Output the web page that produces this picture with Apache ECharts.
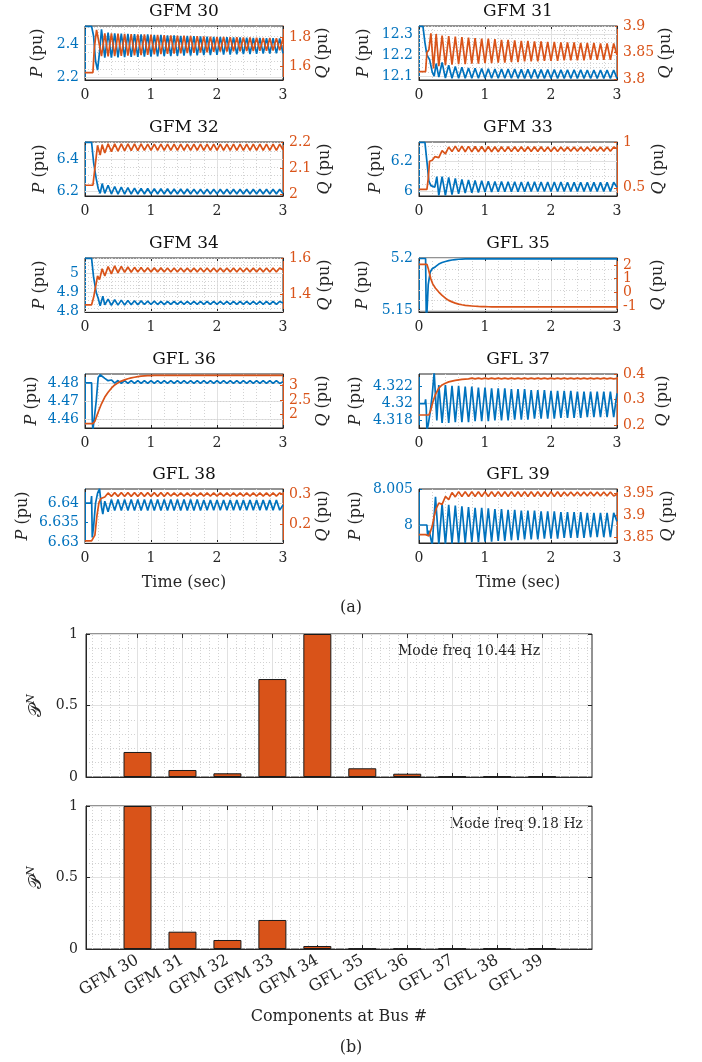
<!DOCTYPE html>
<html><head><meta charset="utf-8">
<script src="https://cdn.jsdelivr.net/npm/echarts/dist/echarts.min.js"></script>
<style>html,body{margin:0;padding:0;background:#fff}#c{width:702px;height:1062px}</style>
</head><body><div id="c"></div>
<script>
// ---------------- DATA ----------------
const titles = ['GFM 30','GFM 31','GFM 32','GFM 33','GFM 34','GFL 35','GFL 36','GFL 37','GFL 38','GFL 39'];
const tGrid = [0.30,0.35,0.40,0.45,0.50,0.55,0.60,0.65,0.70,0.75,0.80,0.85,0.90,0.95,1.00,1.05,1.10,1.15,1.20,1.25,1.30,1.35,1.40,1.45,1.50,1.55,1.60,1.65,1.70,1.75,1.80,1.85,1.90,1.95,2.00,2.05,2.10,2.15,2.20,2.25,2.30,2.35,2.40,2.45,2.50,2.55,2.60,2.65,2.70,2.75,2.80,2.85,2.90,2.95,3.00];

// GFM 30
const p30Tr = [[0,2.508],[0.1,2.508],[0.13,2.45],[0.16,2.30],[0.19,2.245],[0.22,2.35],[0.25,2.49]];
const p30 = [2.320,2.470,2.320,2.466,2.322, 2.465,2.323,2.463,2.324,2.462, 2.325,2.460,2.326,2.459,2.327, 2.457,2.328,2.456,2.329,2.454, 2.330,2.453,2.331,2.451,2.332, 2.450,2.333,2.449,2.334,2.447, 2.335,2.446,2.336,2.445,2.337, 2.444,2.338,2.443,2.339,2.442, 2.340,2.441,2.341,2.440,2.342, 2.439,2.343,2.438,2.344,2.437, 2.345,2.437,2.346,2.436,2.346];
const q30Tr = [[0,1.553],[0.12,1.553],[0.14,1.72],[0.175,1.855],[0.25,1.67]];
const q30 = [1.830,1.667,1.830,1.669,1.829, 1.671,1.827,1.673,1.826,1.675, 1.824,1.677,1.823,1.679,1.821, 1.681,1.820,1.683,1.818,1.685, 1.817,1.687,1.815,1.689,1.814, 1.691,1.812,1.693,1.811,1.695, 1.809,1.697,1.808,1.699,1.806, 1.701,1.805,1.702,1.804,1.703, 1.803,1.704,1.802,1.705,1.801, 1.706,1.800,1.707,1.799,1.708, 1.798,1.709,1.797,1.710,1.796];
// GFM 31
const p31Tr = [[0,12.338],[0.06,12.338],[0.09,12.26],[0.12,12.2],[0.16,12.18],[0.2,12.12],[0.23,12.1],[0.26,12.16]];
const p31 = [12.095,12.165,12.090,12.152,12.089, 12.146,12.089,12.142,12.089,12.139, 12.089,12.137,12.089,12.136,12.089, 12.135,12.089,12.134,12.089,12.134, 12.089,12.133,12.089,12.133,12.089, 12.132,12.089,12.132,12.089,12.132, 12.089,12.131,12.089,12.131,12.089, 12.131,12.089,12.130,12.089,12.130, 12.089,12.130,12.089,12.130,12.089, 12.129,12.089,12.129,12.089,12.129, 12.089,12.129,12.089,12.129,12.089];
const q31Tr = [[0,3.814],[0.1,3.814],[0.12,3.85],[0.15,3.855],[0.18,3.886],[0.22,3.82],[0.26,3.885]];
const q31 = [3.824,3.882,3.826,3.881,3.827, 3.880,3.828,3.879,3.828,3.878, 3.829,3.877,3.829,3.876,3.830, 3.876,3.830,3.875,3.831,3.874, 3.831,3.874,3.832,3.873,3.832, 3.872,3.833,3.872,3.833,3.871, 3.833,3.871,3.834,3.870,3.834, 3.870,3.834,3.869,3.835,3.869, 3.835,3.869,3.835,3.868,3.835, 3.868,3.836,3.868,3.836,3.867, 3.836,3.867,3.836,3.867,3.845];
// GFM 32
const p32Tr = [[0,6.502],[0.1,6.502],[0.13,6.38],[0.17,6.28],[0.2,6.22],[0.23,6.19],[0.26,6.25]];
const p32 = [6.190,6.240,6.186,6.232,6.186, 6.228,6.186,6.225,6.186,6.222, 6.186,6.221,6.186,6.220,6.186, 6.219,6.186,6.218,6.186,6.218, 6.186,6.217,6.186,6.217,6.186, 6.217,6.186,6.216,6.186,6.216, 6.186,6.216,6.186,6.216,6.186, 6.215,6.186,6.215,6.186,6.215, 6.186,6.215,6.186,6.215,6.186, 6.215,6.186,6.215,6.186,6.215, 6.186,6.215,6.186,6.215,6.190];
const q32Tr = [[0,2.035],[0.12,2.035],[0.15,2.1],[0.19,2.187],[0.23,2.15],[0.26,2.19]];
const q32 = [2.158,2.193,2.163,2.193,2.165, 2.193,2.166,2.193,2.167,2.193, 2.167,2.193,2.168,2.192,2.168, 2.192,2.168,2.192,2.168,2.192, 2.168,2.192,2.168,2.192,2.168, 2.192,2.168,2.192,2.168,2.192, 2.168,2.192,2.168,2.192,2.168, 2.192,2.168,2.192,2.168,2.192, 2.168,2.192,2.168,2.192,2.168, 2.192,2.168,2.192,2.168,2.192, 2.168,2.192,2.168,2.192,2.170];
// GFM 33
const p33Tr = [[0,6.329],[0.09,6.329],[0.12,6.2],[0.15,6.07],[0.18,6.04],[0.21,6.03],[0.24,6.03],[0.27,6.1]];
const p33 = [5.975,6.100,5.975,6.095,5.980, 6.088,5.985,6.082,5.990,6.078, 5.993,6.075,5.995,6.072,5.997, 6.070,5.998,6.068,5.999,6.067, 6.000,6.066,6.000,6.066,6.000, 6.065,6.000,6.065,6.001,6.065, 6.001,6.064,6.001,6.064,6.001, 6.064,6.001,6.064,6.002,6.063, 6.002,6.063,6.002,6.063,6.002, 6.063,6.002,6.062,6.002,6.062, 6.002,6.062,6.002,6.062,6.030];
const q33Tr = [[0,0.482],[0.12,0.482],[0.14,0.6],[0.16,0.79],[0.2,0.8],[0.24,0.84],[0.27,0.86]];
const q33 = [0.830,0.905,0.870,0.945,0.895, 0.955,0.895,0.953,0.893,0.952, 0.892,0.951,0.893,0.950,0.893, 0.950,0.894,0.949,0.894,0.949, 0.895,0.948,0.895,0.948,0.896, 0.948,0.896,0.947,0.896,0.947, 0.897,0.947,0.897,0.946,0.897, 0.946,0.897,0.946,0.898,0.946, 0.898,0.945,0.898,0.945,0.898, 0.945,0.898,0.945,0.898,0.945, 0.898,0.945,0.898,0.945,0.925];
// GFM 34
const p34Tr = [[0,5.078],[0.1,5.078],[0.13,4.98],[0.17,4.9],[0.2,4.87],[0.23,4.83],[0.27,4.88]];
const p34 = [4.835,4.865,4.833,4.862,4.834, 4.860,4.835,4.858,4.836,4.857, 4.836,4.856,4.837,4.855,4.837, 4.855,4.837,4.854,4.837,4.854, 4.838,4.854,4.838,4.854,4.838, 4.853,4.838,4.853,4.838,4.853, 4.838,4.853,4.838,4.853,4.838, 4.853,4.838,4.853,4.838,4.853, 4.838,4.853,4.838,4.853,4.838, 4.853,4.838,4.853,4.838,4.853, 4.838,4.853,4.838,4.853,4.845];
const q34Tr = [[0,1.34],[0.1,1.34],[0.13,1.38],[0.16,1.44],[0.19,1.5],[0.22,1.48],[0.26,1.54]];
const q34 = [1.500,1.552,1.512,1.556,1.518, 1.553,1.520,1.550,1.521,1.548, 1.522,1.547,1.522,1.546,1.522, 1.545,1.522,1.545,1.522,1.544, 1.522,1.544,1.522,1.544,1.522, 1.544,1.522,1.544,1.522,1.544, 1.522,1.544,1.522,1.544,1.522, 1.544,1.522,1.544,1.522,1.544, 1.522,1.544,1.522,1.544,1.522, 1.544,1.522,1.544,1.522,1.544, 1.522,1.544,1.522,1.544,1.535];
// GFL 35
const p35Tr = [[0,5.1998],[0.1,5.1998],[0.11,5.145],[0.12,5.148],[0.14,5.175],[0.17,5.187],[0.2,5.19],[0.25,5.192]];
const p35 = [5.1945,5.1960,5.1970,5.1978,5.1984, 5.1988,5.1991,5.1993,5.1994,5.1995, 5.1995,5.1995,5.1995,5.1995,5.1995, 5.1995,5.1995,5.1995,5.1995,5.1995, 5.1995,5.1995,5.1995,5.1995,5.1995, 5.1995,5.1995,5.1995,5.1995,5.1995, 5.1995,5.1995,5.1995,5.1995,5.1995, 5.1995,5.1995,5.1995,5.1995,5.1995, 5.1995,5.1995,5.1995,5.1995,5.1995, 5.1995,5.1995,5.1995,5.1995,5.1995, 5.1995,5.1995,5.1995,5.1995,5.1995];
const q35Tr = [[0,2.05],[0.12,2.05],[0.14,1.75],[0.16,1.35],[0.18,0.97],[0.21,0.6],[0.25,0.3]];
const q35 = [0.02,-0.22,-0.43,-0.59,-0.70, -0.79,-0.86,-0.91,-0.95,-0.98, -1.00,-1.02,-1.035,-1.045,-1.05, -1.055,-1.06,-1.063,-1.065,-1.067, -1.068,-1.068,-1.068,-1.068,-1.068, -1.068,-1.068,-1.068,-1.068,-1.068, -1.068,-1.068,-1.068,-1.068,-1.068, -1.068,-1.068,-1.068,-1.068,-1.068, -1.068,-1.068,-1.068,-1.068,-1.068, -1.068,-1.068,-1.068,-1.068,-1.068, -1.068,-1.068,-1.068,-1.068,-1.068];
// GFL 36
const p36Tr = [[0,4.48],[0.1,4.48],[0.11,4.4595],[0.12,4.454],[0.14,4.454],[0.17,4.47],[0.2,4.483],[0.23,4.4845],[0.26,4.4835]];
const p36 = [4.4825,4.4812,4.4816,4.4799,4.4813, 4.4797,4.4813,4.4797,4.4813,4.4797, 4.4813,4.4797,4.4813,4.4797,4.4813, 4.4797,4.4813,4.4797,4.4813,4.4797, 4.4813,4.4797,4.4813,4.4797,4.4813, 4.4797,4.4813,4.4797,4.4813,4.4797, 4.4813,4.4797,4.4813,4.4797,4.4813, 4.4797,4.4813,4.4797,4.4813,4.4797, 4.4813,4.4797,4.4813,4.4797,4.4813, 4.4797,4.4813,4.4797,4.4813,4.4797, 4.4813,4.4797,4.4813,4.4797,4.4806];
const q36Tr = [[0,1.70],[0.12,1.70],[0.15,1.78],[0.18,1.97],[0.21,2.15],[0.25,2.37]];
const q36 = [2.60,2.76,2.90,3.01,3.08, 3.14,3.18,3.22,3.25,3.27, 3.29,3.305,3.315,3.322,3.328, 3.331,3.333,3.335,3.335,3.335, 3.335,3.335,3.335,3.335,3.335, 3.335,3.335,3.335,3.335,3.335, 3.335,3.335,3.335,3.335,3.335, 3.335,3.335,3.335,3.335,3.335, 3.335,3.335,3.335,3.335,3.335, 3.335,3.335,3.335,3.335,3.335, 3.335,3.335,3.335,3.335,3.335];
// GFL 37
const p37Tr = [[0,4.32],[0.09,4.32],[0.1,4.3205],[0.11,4.3195],[0.12,4.3168],[0.14,4.3175],[0.17,4.319],[0.2,4.321],[0.23,4.3237],[0.27,4.318]];
const p37 = [4.3222,4.3177,4.3222,4.3177,4.3221, 4.3178,4.3221,4.3178,4.3220,4.3178, 4.3220,4.3179,4.3219,4.3179,4.3219, 4.3179,4.3218,4.3180,4.3218,4.3180, 4.3218,4.3180,4.3217,4.3181,4.3217, 4.3181,4.3217,4.3181,4.3216,4.3182, 4.3216,4.3182,4.3216,4.3182,4.3215, 4.3182,4.3215,4.3183,4.3215,4.3183, 4.3215,4.3183,4.3214,4.3183,4.3214, 4.3184,4.3214,4.3184,4.3214,4.3184, 4.3214,4.3184,4.3214,4.3184,4.3212];
const q37Tr = [[0,0.239],[0.15,0.239],[0.18,0.26],[0.21,0.29],[0.25,0.32]];
const q37 = [0.345,0.357,0.364,0.369,0.372, 0.375,0.377,0.379,0.380,0.381, 0.384,0.381,0.384,0.381,0.384, 0.381,0.384,0.381,0.384,0.381, 0.384,0.381,0.384,0.381,0.384, 0.381,0.384,0.381,0.384,0.381, 0.384,0.381,0.384,0.381,0.384, 0.381,0.384,0.381,0.384,0.381, 0.384,0.381,0.384,0.381,0.384, 0.381,0.384,0.381,0.384,0.381, 0.384,0.381,0.384,0.381,0.383];
// GFL 38
const p38Tr = [[0,6.64],[0.09,6.64],[0.1,6.6418],[0.11,6.6312],[0.13,6.634],[0.16,6.64],[0.19,6.6425],[0.22,6.6437],[0.25,6.639],[0.27,6.6372]];
const p38 = [6.6405,6.6378,6.6409,6.6381,6.6409, 6.6381,6.6409,6.6381,6.6409,6.6381, 6.6409,6.6381,6.6409,6.6381,6.6409, 6.6381,6.6409,6.6381,6.6409,6.6381, 6.6409,6.6381,6.6409,6.6381,6.6409, 6.6381,6.6409,6.6381,6.6409,6.6381, 6.6408,6.6382,6.6408,6.6382,6.6408, 6.6382,6.6408,6.6382,6.6408,6.6382, 6.6408,6.6382,6.6408,6.6382,6.6408, 6.6382,6.6408,6.6382,6.6408,6.6382, 6.6408,6.6382,6.6408,6.6382,6.6395];
const q38Tr = [[0,0.146],[0.1,0.146],[0.13,0.15],[0.15,0.165],[0.18,0.227],[0.21,0.27],[0.24,0.285],[0.27,0.29]];
const q38 = [0.290,0.303,0.292,0.304,0.292, 0.304,0.292,0.304,0.292,0.304, 0.292,0.304,0.292,0.304,0.292, 0.304,0.292,0.304,0.292,0.304, 0.293,0.303,0.293,0.303,0.293, 0.303,0.293,0.303,0.293,0.303, 0.293,0.303,0.293,0.303,0.293, 0.303,0.293,0.303,0.293,0.303, 0.293,0.303,0.293,0.303,0.293, 0.303,0.293,0.303,0.293,0.303, 0.293,0.303,0.293,0.303,0.298];
// GFL 39
const p39Tr = [[0,8.0],[0.12,8.0],[0.13,7.9985],[0.15,7.9992],[0.17,7.9985],[0.2,7.9972],[0.22,8.0],[0.25,8.0039]];
const p39 = [7.9973,8.0029,7.9973,8.0028,7.9974, 8.0027,7.9975,8.0026,7.9975,8.0025, 7.9976,8.0024,7.9976,8.0024,7.9977, 8.0023,7.9977,8.0022,7.9978,8.0022, 7.9978,8.0021,7.9979,8.0021,7.9979, 8.0020,7.9980,8.0020,7.9980,8.0020, 7.9980,8.0019,7.9981,8.0019,7.9981, 8.0019,7.9981,8.0018,7.9982,8.0018, 7.9982,8.0018,7.9982,8.0018,7.9982, 8.0017,7.9983,8.0017,7.9983,8.0017, 7.9983,8.0017,7.9983,8.0017,8.0005];
const q39Tr = [[0,3.856],[0.1,3.856],[0.15,3.853],[0.17,3.856],[0.2,3.875],[0.23,3.898],[0.26,3.915]];
const q39 = [3.928,3.925,3.943,3.936,3.952, 3.942,3.954,3.943,3.954,3.943, 3.954,3.943,3.954,3.943,3.954, 3.943,3.954,3.943,3.954,3.943, 3.954,3.943,3.954,3.943,3.954, 3.943,3.954,3.943,3.954,3.943, 3.954,3.943,3.954,3.943,3.954, 3.943,3.954,3.943,3.953,3.944, 3.953,3.944,3.953,3.944,3.953, 3.944,3.953,3.944,3.953,3.944, 3.953,3.944,3.953,3.944,3.948];

// axis limits and tick labels
const pRanges = [[2.186,2.51],[12.081,12.34],[6.174,6.504],[5.971,6.331],[4.798,5.08],[5.1488,5.2003],[4.4551,4.4849],[4.3171,4.3235],[6.6298,6.6436],[7.9975,8.005]];
const qRanges = [[1.5,1.883],[3.798,3.9],[1.994,2.2],[0.41,1.0],[1.3,1.6],[-1.44,2.51],[1.55,3.38],[0.188,0.4],[0.139,0.316],[3.837,3.96]];
const pTicks = [[2.2,2.4],[12.1,12.2,12.3],[6.2,6.4],[6,6.2],[4.8,4.9,5],[5.15,5.2],[4.46,4.47,4.48],[4.318,4.32,4.322],[6.63,6.635,6.64],[8,8.005]];
const qTicks = [[1.6,1.8],[3.8,3.85,3.9],[2,2.1,2.2],[0.5,1],[1.4,1.6],[-1,0,1,2],[2,2.5,3],[0.2,0.3,0.4],[0.2,0.3],[3.85,3.9,3.95]];
const pMinor = [0.05,0.02,0.05,0.05,0.02,0.01,0.002,0.0005,0.001,0.001];
const timeTicks = [0,1,2,3];

// bar charts
const categories = ['GFM 30','GFM 31','GFM 32','GFM 33','GFM 34','GFL 35','GFL 36','GFL 37','GFL 38','GFL 39'];
const catPos = [1,2,3,4,5,6,7,8,9,10];
const mode1 = [0.175,0.049,0.026,0.685,1.0,0.061,0.023,0.004,0.004,0.005];
const mode2 = [1.0,0.121,0.063,0.203,0.021,0.003,0.003,0.003,0.004,0.004];
const barTicks = [0,0.5,1];
const barXRange = [-0.146, 11.11];

const Pseries = [[p30Tr,p30],[p31Tr,p31],[p32Tr,p32],[p33Tr,p33],[p34Tr,p34],[p35Tr,p35],[p36Tr,p36],[p37Tr,p37],[p38Tr,p38],[p39Tr,p39]];
const Qseries = [[q30Tr,q30],[q31Tr,q31],[q32Tr,q32],[q33Tr,q33],[q34Tr,q34],[q35Tr,q35],[q36Tr,q36],[q37Tr,q37],[q38Tr,q38],[q39Tr,q39]];

// ---------------- LAYOUT / STYLE ----------------
const FONT = 'DejaVu Serif';
const BLUE = '#0072BD', ORANGE = '#D95319', INK = '#262626';
const MAJ = '#e1e1e1', MIN = '#d2d2d2';
const colLeft = [85, 419], rowTop = [26, 142, 258, 374, 489], W = 198, H = 54;
const leftGap = [47,55,45,43,45,56,53,63,62,63];
const rightGap = [39,49,42,42,42,41,40,46,40,51];

function build(pair){ return pair[0].concat(tGrid.map((t,i)=>[t, pair[1][i]])); }
function hLines(range, ticks, step){
  const out = [];
  const k0 = Math.ceil(range[0]/step - 1e-6), k1 = Math.floor(range[1]/step + 1e-6);
  for (let k=k0;k<=k1;k++){
    const v = +(k*step).toFixed(6);
    const major = ticks.some(t=>Math.abs(t-v) < step*1e-3);
    out.push({yAxis: v, lineStyle: major ? {color: MAJ, type:'solid', width:1} : {color: MIN, type:[1,2], width:1}});
  }
  return out;
}
function vMinor(range, step, majors){
  const out = [];
  const k0 = Math.ceil(range[0]/step - 1e-6), k1 = Math.floor(range[1]/step + 1e-6);
  for (let k=k0;k<=k1;k++){
    const v = +(k*step).toFixed(6);
    if (majors.some(t=>Math.abs(t-v) < 1e-6)) continue;
    out.push({xAxis: v});
  }
  return out;
}
const fmt = v => String(+(+v).toFixed(4));
const nameStyle = {fontFamily: FONT, fontSize: 16, color: INK, rich: {i: {fontFamily: FONT, fontStyle:'italic', fontSize: 16, color: INK}}};
function yLabel(vals, color){
  return {customValues: vals, showMinLabel: true, showMaxLabel: true, hideOverlap: false, color: color, fontFamily: FONT, fontSize: 14, margin: 6, formatter: fmt};
}

const grid = [], xAxis = [], yAxis = [], series = [], graphic = [];

titles.forEach((tt, i) => {
  const col = i % 2, row = Math.floor(i / 2);
  const L = colLeft[col], T = rowTop[row];
  grid.push({left: L, top: T, width: W, height: H, show: true, borderColor: INK, borderWidth: 1, backgroundColor: '#fff'});
  const xi = xAxis.length;
  xAxis.push({gridIndex: i, type: 'value', min: 0, max: 3, interval: 1,
    axisLine: {onZero: false, lineStyle: {color: INK, width: 1}},
    axisTick: {inside: true, length: 3, lineStyle: {color: INK}},
    axisLabel: {customValues: timeTicks, fontFamily: FONT, fontSize: 14, color: INK, margin: 8, formatter: fmt},
    splitLine: {show: true, lineStyle: {color: MAJ, width: 1}},
    minorTick: {show: false, splitNumber: 5},
    minorSplitLine: {show: true, lineStyle: {color: MIN, type: [1,2], width: 1}},
    name: row === 4 ? 'Time (sec)' : '', nameLocation: 'middle', nameGap: 32,
    nameTextStyle: {fontFamily: FONT, fontSize: 16, color: INK}});
  xAxis.push({gridIndex: i, type: 'value', position: 'top', min: 0, max: 3, interval: 1,
    axisLine: {show: false, onZero: false}, axisTick: {inside: true, length: 3, lineStyle: {color: INK}},
    axisLabel: {show: false}, splitLine: {show: false}});
  const pi = yAxis.length;
  yAxis.push({gridIndex: i, type: 'value', position: 'left', min: pRanges[i][0], max: pRanges[i][1],
    axisLine: {show: true, onZero: false, lineStyle: {color: BLUE, width: 1}},
    axisTick: {show: true, inside: true, length: 3, customValues: pTicks[i], lineStyle: {color: BLUE}},
    axisLabel: yLabel(pTicks[i], BLUE),
    splitLine: {show: false},
    name: '{i|P} (pu)', nameLocation: 'middle', nameRotate: 90, nameGap: leftGap[i] - 8, nameTextStyle: nameStyle});
  const qt = qTicks[i];
  const dense = qt.length >= 4;
  const qMain = dense ? qt.filter((v, k) => k % 2 === 0) : qt;
  const qi = yAxis.length;
  yAxis.push({gridIndex: i, type: 'value', position: 'right', min: qRanges[i][0], max: qRanges[i][1],
    axisLine: {show: true, onZero: false, lineStyle: {color: ORANGE, width: 1}},
    axisTick: {show: true, inside: true, length: 3, customValues: qt, lineStyle: {color: ORANGE}},
    axisLabel: yLabel(qMain, ORANGE),
    splitLine: {show: false},
    name: '{i|Q} (pu)', nameLocation: 'middle', nameRotate: 90, nameGap: rightGap[i] - 8, nameTextStyle: nameStyle});
  if (dense) {
    yAxis.push({gridIndex: i, type: 'value', position: 'right', offset: 0, min: qRanges[i][0], max: qRanges[i][1],
      axisLine: {show: false, onZero: false}, axisTick: {show: false},
      axisLabel: yLabel(qt.filter((v, k) => k % 2 === 1), ORANGE), splitLine: {show: false}});
  }
  series.push({type: 'line', xAxisIndex: xi, yAxisIndex: pi, data: build(Pseries[i]), showSymbol: false, symbol: 'none',
    lineStyle: {color: BLUE, width: 1.7}, itemStyle: {color: BLUE}, z: 3, clip: true,
    markLine: {silent: true, symbol: ['none','none'], label: {show: false}, z: 1, animation: false, data: hLines(pRanges[i], pTicks[i], pMinor[i])}});
  series.push({type: 'line', xAxisIndex: xi, yAxisIndex: qi, data: build(Qseries[i]), showSymbol: false, symbol: 'none',
    lineStyle: {color: ORANGE, width: 1.7}, itemStyle: {color: ORANGE}, z: 4, clip: true});
  graphic.push({type: 'text', x: L + W/2, y: T - 14, style: {text: tt, font: '17px "DejaVu Serif"', fill: '#111', align: 'center', verticalAlign: 'middle'}});
});

// bar charts
const barTops = [634, 806], BL = 86, BW = 506, BH = 143;
const modeText = ['Mode freq 10.44 Hz', 'Mode freq 9.18 Hz'];
[mode1, mode2].forEach((vals, j) => {
  const gi = 10 + j;
  grid.push({left: BL, top: barTops[j], width: BW, height: BH, show: true, borderColor: INK, borderWidth: 1, backgroundColor: '#fff'});
  const xi = xAxis.length;
  xAxis.push({gridIndex: gi, type: 'value', min: barXRange[0], max: barXRange[1],
    axisLine: {onZero: false, lineStyle: {color: INK}},
    axisTick: {inside: true, length: 4, customValues: catPos, lineStyle: {color: INK}},
    axisLabel: {show: j === 1, customValues: catPos, showMinLabel: true, showMaxLabel: true, hideOverlap: false, rotate: 30, fontFamily: FONT, fontSize: 16, color: INK, margin: 10,
      formatter: v => categories[Math.round(v) - 1] || ''},
    splitLine: {show: true, lineStyle: {color: MAJ}},
    minorSplitLine: {show: false},
    name: j === 1 ? 'Components at Bus #' : '', nameLocation: 'middle', nameGap: 60,
    nameTextStyle: {fontFamily: FONT, fontSize: 16, color: INK}});
  xAxis.push({gridIndex: gi, type: 'value', position: 'top', min: barXRange[0], max: barXRange[1],
    axisLine: {show: false, onZero: false}, axisTick: {inside: true, length: 4, customValues: catPos, lineStyle: {color: INK}},
    axisLabel: {show: false}, splitLine: {show: false}});
  const yi = yAxis.length;
  yAxis.push({gridIndex: gi, type: 'value', min: 0, max: 1, interval: 0.5,
    axisLine: {show: true, onZero: false, lineStyle: {color: INK}},
    axisTick: {inside: true, length: 4, lineStyle: {color: INK}},
    axisLabel: {customValues: barTicks, showMinLabel: true, showMaxLabel: true, fontFamily: FONT, fontSize: 14, color: INK, margin: 8, formatter: fmt},
    splitLine: {show: true, lineStyle: {color: MAJ}},
    minorTick: {show: false, splitNumber: 5},
    minorSplitLine: {show: true, lineStyle: {color: MIN, type: [1,2]}},
    name: '{p|𝒫}{s|N}', nameLocation: 'middle', nameRotate: 90, nameGap: 36,
    nameTextStyle: {fontFamily: FONT, fontSize: 16, color: INK, rich: {p: {fontSize: 18, fontFamily: FONT, color: INK}, s: {fontSize: 11, fontFamily: FONT, fontStyle: 'italic', color: INK, padding: [0,0,9,0]}}}});
  yAxis.push({gridIndex: gi, type: 'value', position: 'right', min: 0, max: 1, interval: 0.5,
    axisLine: {show: false, onZero: false}, axisTick: {inside: true, length: 4, lineStyle: {color: INK}},
    axisLabel: {show: false}, splitLine: {show: false}});
  series.push({type: 'bar', xAxisIndex: xi, yAxisIndex: yi, barWidth: 28,
    data: catPos.map((c, k) => [c, vals[k]]),
    itemStyle: {color: ORANGE, borderColor: '#1a1a1a', borderWidth: 1}, z: 3,
    markLine: {silent: true, symbol: ['none','none'], label: {show: false}, z: 1, animation: false,
      lineStyle: {color: MIN, type: [1,2], width: 1}, data: vMinor(barXRange, 0.2, catPos)}});
});
graphic.push({type: 'text', left: 398, top: 644, style: {text: modeText[0], font: '14px "DejaVu Serif"', fill: INK}});
graphic.push({type: 'text', right: 702 - 583, top: 817, style: {text: modeText[1], font: '14px "DejaVu Serif"', fill: INK}});
graphic.push({type: 'text', x: 351, y: 608, style: {text: '(a)', font: '16px "DejaVu Serif"', fill: INK, align: 'center', verticalAlign: 'middle'}});
graphic.push({type: 'text', x: 351, y: 1048, style: {text: '(b)', font: '16px "DejaVu Serif"', fill: INK, align: 'center', verticalAlign: 'middle'}});

const chart = echarts.init(document.getElementById('c'), null, {renderer: 'canvas'});
chart.setOption({animation: false, backgroundColor: '#fff', grid, xAxis, yAxis, series, graphic});
</script>
</body></html>
